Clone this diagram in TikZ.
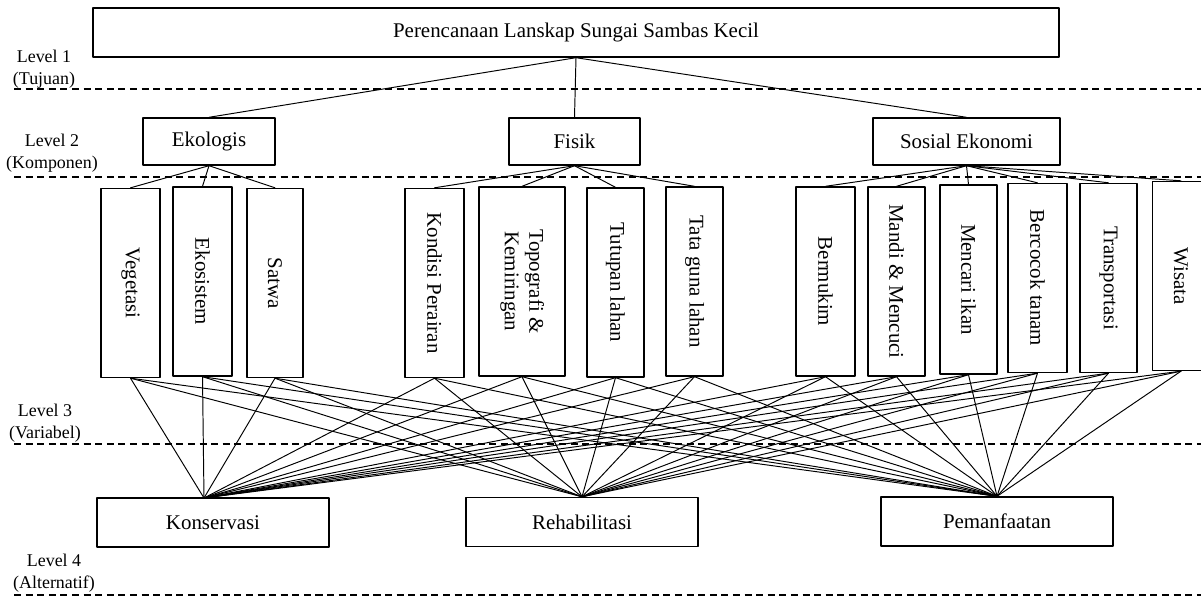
\documentclass[tikz,border=0pt]{standalone}
\usepackage{fontspec}
\setmainfont{Liberation Serif}
\begin{document}
\begin{tikzpicture}[x=0.02cm,y=-0.02cm,line join=round,line cap=round,
	kotak/.style={draw,line width=0.8pt,inner sep=0pt,font=\fontsize{11.9}{14}\selectfont},
	varbox/.style={kotak,minimum height=37.8mm},
	altbox/.style={kotak,minimum width=46.4mm,minimum height=9.8mm},
	garis/.style={line width=0.55pt},
	batas/.style={line width=0.9pt,dash pattern=on 4pt off 2.6pt,line cap=butt},
	level/.style={align=center,font=\fontsize{10.2}{12.5}\selectfont}]
	\path[use as bounding box] (0,0) rectangle (1201,598);
	% level 1
	\node[kotak,minimum width=193.2mm,minimum height=9.8mm] (tujuan) at (576,32.5) {Perencanaan Lanskap Sungai Sambas Kecil};
	% level 2
	\node[kotak,minimum width=26.4mm,minimum height=9.4mm] (ekol) at (209,141.5) {Ekologis};
	\node[kotak,minimum width=26.2mm,minimum height=9.4mm] (fisik) at (574.5,141.5) {Fisik};
	\node[kotak,minimum width=37.4mm,minimum height=9.4mm] (sosek) at (966.5,141.5) {Sosial Ekonomi};
	% level 3
	\node[varbox,minimum width=11.8mm] (veg) at (130.5,283) {\rotatebox{-90}{Vegetasi}};
	\node[varbox,minimum width=11.8mm] (eko) at (202.5,281.5) {\rotatebox{-90}{Ekosistem}};
	\node[varbox,minimum width=11.2mm] (sat) at (275,283) {\rotatebox{-90}{Satwa}};
	\node[varbox,minimum width=11.8mm] (kon) at (434.5,283) {\rotatebox{-90}{Kondisi Perairan}};
	\node[varbox,minimum width=17.2mm] (top) at (522,281.5) {\rotatebox{-90}{\begin{tabular}{@{}c@{}}Topografi \&\\Kemiringan\end{tabular}}};
	\node[varbox,minimum width=11.4mm] (tut) at (615.5,282.5) {\rotatebox{-90}{Tutupan lahan}};
	\node[varbox,minimum width=11.4mm] (tat) at (694.5,281.5) {\rotatebox{-90}{Tata guna lahan}};
	\node[varbox,minimum width=11.8mm] (ber) at (825.5,281.5) {\rotatebox{-90}{Bermukim}};
	\node[varbox,minimum width=11.4mm] (man) at (896.5,281.5) {\rotatebox{-90}{Mandi \& Mencuci}};
	\node[varbox,minimum width=11.4mm] (men) at (968.5,279.5) {\rotatebox{-90}{Mencari ikan}};
	\node[varbox,minimum width=11.8mm] (bco) at (1037.5,278) {\rotatebox{-90}{Bercocok tanam}};
	\node[varbox,minimum width=11.4mm] (tra) at (1108.5,278) {\rotatebox{-90}{Transportasi}};
	\node[varbox,minimum width=11.4mm] (wis) at (1181,276) {\rotatebox{-90}{Wisata}};
	% level 4
	\node[altbox] (kons) at (213,522.5) {Konservasi};
	\node[altbox] (reha) at (582,522) {Rehabilitasi};
	\node[altbox] (pema) at (997,521.5) {Pemanfaatan};
	\coordinate (konsin) at (204,498);
	% garis level
	\node[level] (lv1) at (44,69) {Level 1\\(Tujuan)};
	\node[level] (lv2) at (52,153) {Level 2\\(Komponen)};
	\node[level] (lv3) at (45,423) {Level 3\\(Variabel)};
	\node[level] (lv4) at (54,573) {Level 4\\(Alternatif)};
	\draw[batas] (14,89)--(1210,89);
	\draw[batas] (14,177)--(1210,177);
	\draw[batas] (14,444)--(1210,444);
	\draw[batas] (14,595)--(1210,595);
	% hubungan
	\foreach \k in {ekol,fisik,sosek}
		\draw[garis] (tujuan.south)--(\k.north);
	\foreach \v in {veg,eko,sat}
		\draw[garis] (ekol.south)--(\v.north);
	\foreach \v in {kon,top,tut,tat}
		\draw[garis] (fisik.south)--(\v.north);
	\foreach \v in {ber,man,men,bco,tra,wis}
		\draw[garis] (sosek.south)--(\v.north);
	\foreach \v in {veg,eko,sat,kon,top,tut,tat,ber,man,men,bco,tra,wis}{
		\draw[garis] (\v.south)--(konsin);
		\draw[garis] (\v.south)--(reha.north);
		\draw[garis] (\v.south)--(pema.north);
	}
\end{tikzpicture}
\end{document}
